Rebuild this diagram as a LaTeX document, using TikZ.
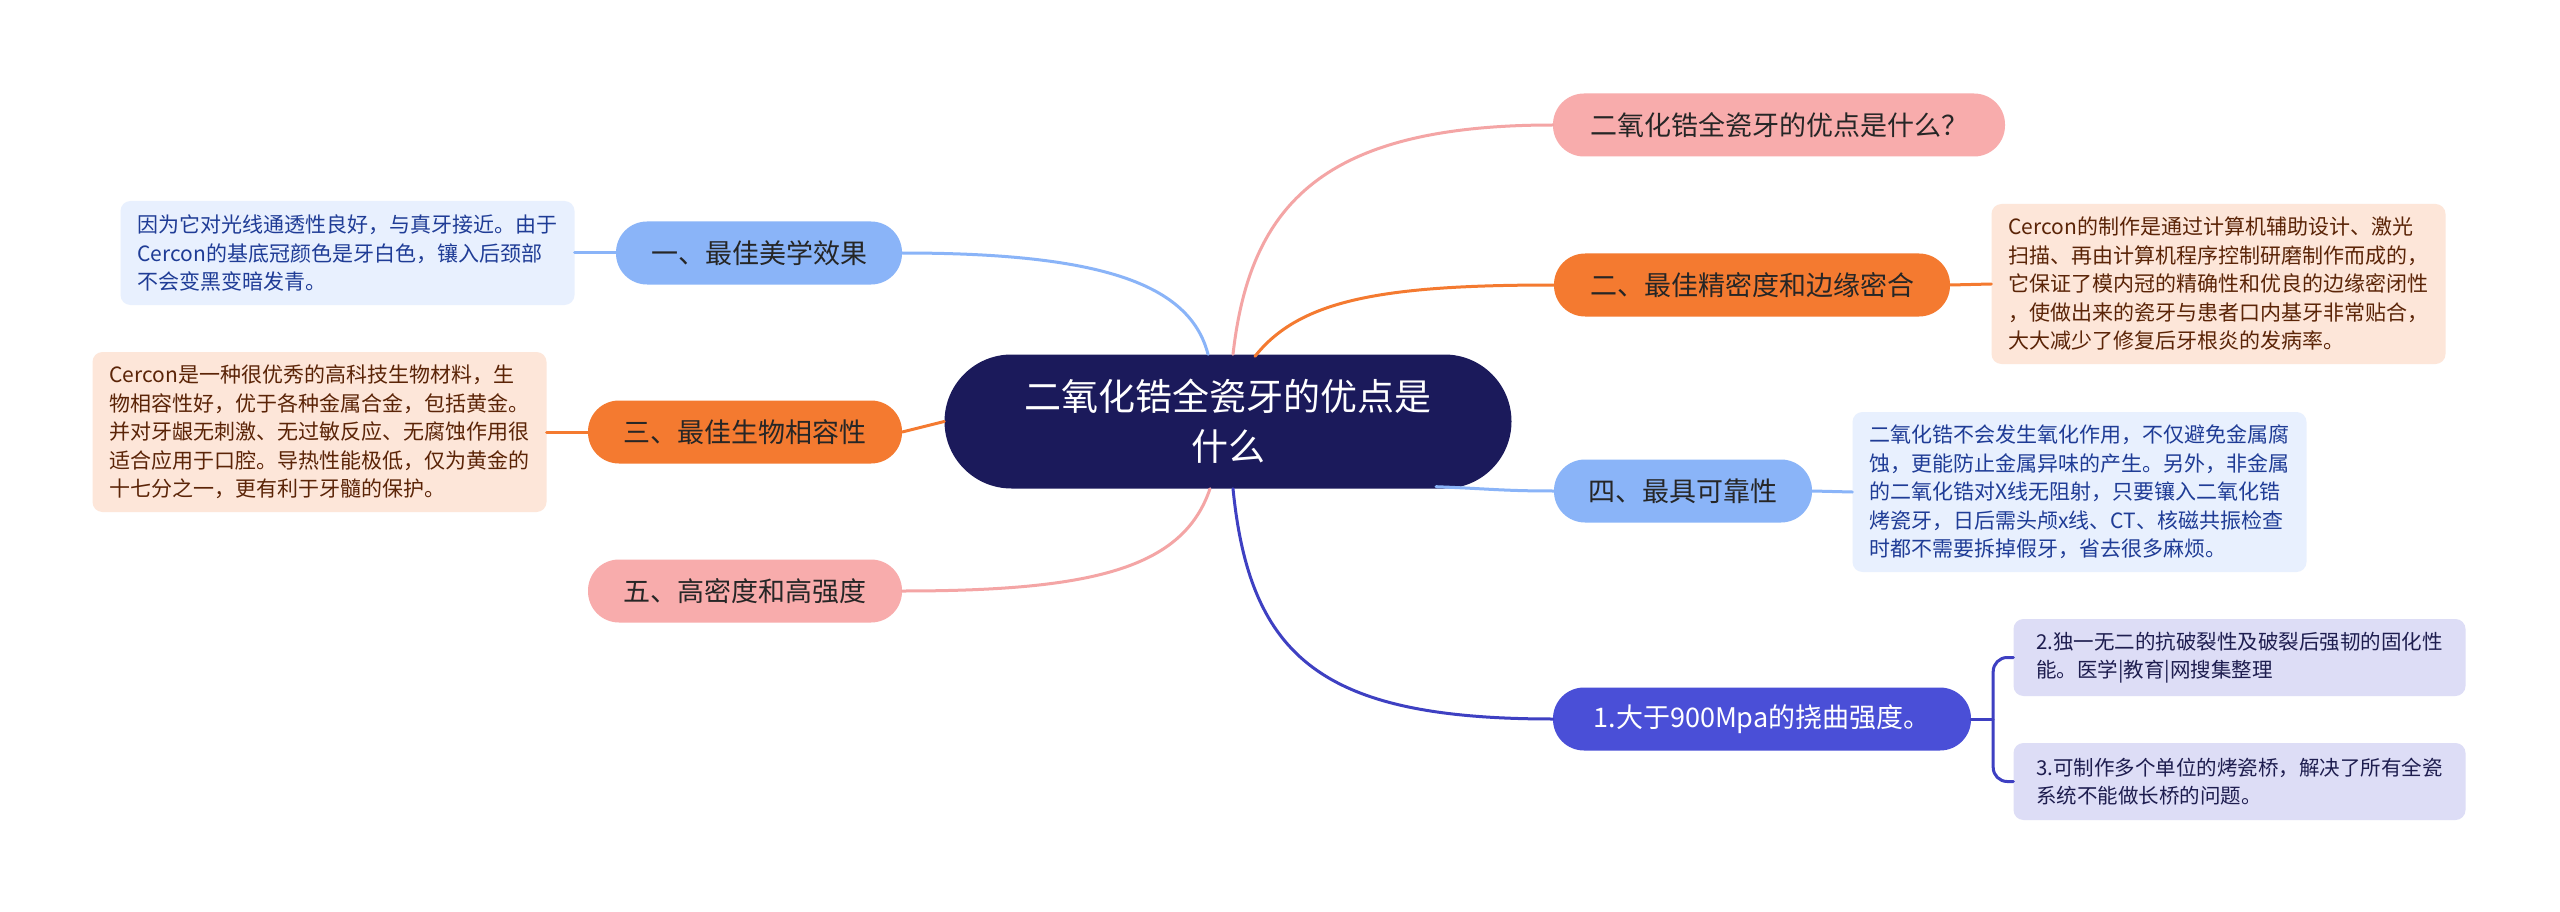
\documentclass[tikz,border=0pt]{standalone}
\usepackage{fontspec}
\setmainfont{Noto Sans CJK SC}
\definecolor{navy}{HTML}{1B1A5B}
\definecolor{lblue}{HTML}{8AB4F8}
\definecolor{lbluebg}{HTML}{E8F0FE}
\definecolor{bluetxt}{HTML}{1F3C96}
\definecolor{orng}{HTML}{F47A30}
\definecolor{peach}{HTML}{FDE6D9}
\definecolor{browntxt}{HTML}{5B2407}
\definecolor{pnk}{HTML}{F8ACAC}
\definecolor{pnkline}{HTML}{F4A5A5}
\definecolor{indig}{HTML}{4A4FD7}
\definecolor{indigline}{HTML}{3E40C2}
\definecolor{lav}{HTML}{DDDDF6}
\definecolor{lavtxt}{HTML}{1E1D4F}
\begin{document}
\begin{tikzpicture}[x=1pt,y=-1pt,
  mainbox/.style={rectangle, rounded corners=31pt, minimum height=63pt, inner sep=0pt,
    font=\fontsize{27}{32}\selectfont, text=black!85},
  detailbox/.style={rectangle, rounded corners=10pt, inner sep=0pt, align=left,
    font=\fontsize{21}{28.5}\selectfont},
  subbox/.style={rectangle, rounded corners=10pt, inner sep=0pt, align=left,
    font=\fontsize{20.5}{28}\selectfont, fill=lav, text=lavtxt, minimum width=452pt, minimum height=77pt},
  conn/.style={line width=3pt, line cap=round}]
\fill[white] (0,0) rectangle (2560,912);
\useasboundingbox (0,0) rectangle (2560,912);

% center
\node[rectangle, rounded corners=67pt, fill=navy, text=white, minimum width=567pt, minimum height=134pt,
  inner sep=0pt, align=center, font=\fontsize{37}{50}\selectfont] (c) at (1228,421.5)
  {二氧化锆全瓷牙的优点是\\什么};

% left main nodes
\node[mainbox, fill=lblue, minimum width=286pt] (m1) at (759,253) {一、最佳美学效果};
\node[mainbox, fill=orng, minimum width=314pt] (m3) at (745,432) {三、最佳生物相容性};
\node[mainbox, fill=pnk, minimum width=314pt] (m5) at (745,591) {五、高密度和高强度};

% right main nodes
\node[mainbox, fill=pnk, minimum width=452pt] (q) at (1779,125) {二氧化锆全瓷牙的优点是什么？};
\node[mainbox, fill=orng, minimum width=396pt] (m2) at (1752,285) {二、最佳精密度和边缘密合};
\node[mainbox, fill=lblue, minimum width=258pt] (m4) at (1683,491) {四、最具可靠性};
\node[mainbox, fill=indig, text=white, minimum width=418pt] (n1) at (1762,719) {1.大于900Mpa的挠曲强度。};

% detail boxes
\node[detailbox, fill=lbluebg, text=bluetxt, minimum width=454pt, minimum height=104pt] (d1) at (347.5,253)
  {因为它对光线通透性良好，与真牙接近。由于\\Cercon的基底冠颜色是牙白色，镶入后颈部\\不会变黑变暗发青。};
\node[detailbox, fill=peach, text=browntxt, minimum width=454pt, minimum height=160pt] (d3) at (319.5,432)
  {Cercon是一种很优秀的高科技生物材料，生\\物相容性好，优于各种金属合金，包括黄金。\\并对牙龈无刺激、无过敏反应、无腐蚀作用很\\适合应用于口腔。导热性能极低，仅为黄金的\\十七分之一，更有利于牙髓的保护。};
\node[detailbox, fill=peach, text=browntxt, minimum width=454pt, minimum height=160pt] (d2) at (2218.5,284)
  {Cercon的制作是通过计算机辅助设计、激光\\扫描、再由计算机程序控制研磨制作而成的，\\它保证了模内冠的精确性和优良的边缘密闭性\\，使做出来的瓷牙与患者口内基牙非常贴合，\\大大减少了修复后牙根炎的发病率。};
\node[detailbox, fill=lbluebg, text=bluetxt, minimum width=454pt, minimum height=160pt] (d4) at (2079.5,492)
  {二氧化锆不会发生氧化作用，不仅避免金属腐\\蚀，更能防止金属异味的产生。另外，非金属\\的二氧化锆对X线无阻射，只要镶入二氧化锆\\烤瓷牙，日后需头颅x线、CT、核磁共振检查\\时都不需要拆掉假牙，省去很多麻烦。};

\node[subbox] (s2) at (2239.5,657.5) {2.独一无二的抗破裂性及破裂后强韧的固化性\\能。医学|教育|网搜集整理};
\node[subbox] (s3) at (2239.5,781.5) {3.可制作多个单位的烤瓷桥，解决了所有全瓷\\系统不能做长桥的问题。};

% connectors center -> main
\begin{scope}[on background layer/.style={}]
\end{scope}
\draw[conn, lblue] ([xshift=-20pt]c.north) .. controls ([xshift=-38pt,yshift=70pt]c.north) and ([xshift=200pt]m1.east) .. (m1.east);
\draw[conn, pnkline] ([xshift=5pt]c.north) .. controls ([xshift=22pt,yshift=150pt]c.north) and ([xshift=-230pt]q.west) .. (q.west);
\draw[conn, orng] ([xshift=27pt,yshift=-2pt]c.north) .. controls ([xshift=72pt,yshift=55pt]c.north) and ([xshift=-170pt]m2.west) .. (m2.west);
\draw[conn, orng] (c.west) -- (m3.east);
\draw[conn, pnkline] ([xshift=-18pt]c.south) .. controls ([xshift=-45pt,yshift=-80pt]c.south) and ([xshift=190pt]m5.east) .. (m5.east);
\draw[conn, lblue] ([xshift=208pt,yshift=2pt]c.south) .. controls ([xshift=260pt]c.south) and ([xshift=-50pt]m4.west) .. (m4.west);
\draw[conn, indigline] ([xshift=5pt]c.south) .. controls ([xshift=22pt,yshift=-170pt]c.south) and ([xshift=-230pt]n1.west) .. (n1.west);

% main -> details
\draw[conn, lblue] (m1.west) -- (d1.east);
\draw[conn, orng] (m3.west) -- (d3.east);
\draw[conn, orng] (m2.east) -- (d2.west);
\draw[conn, lblue] (m4.east) -- (d4.west);

% bracket
\coordinate (br) at ([xshift=22pt]n1.east);
\draw[conn, indigline] (n1.east) -- (br);
\draw[conn, indigline, rounded corners=14pt] (s2.west) -- (s2.west -| br) -- (s3.west -| br) -- (s3.west);
\end{tikzpicture}
\end{document}
